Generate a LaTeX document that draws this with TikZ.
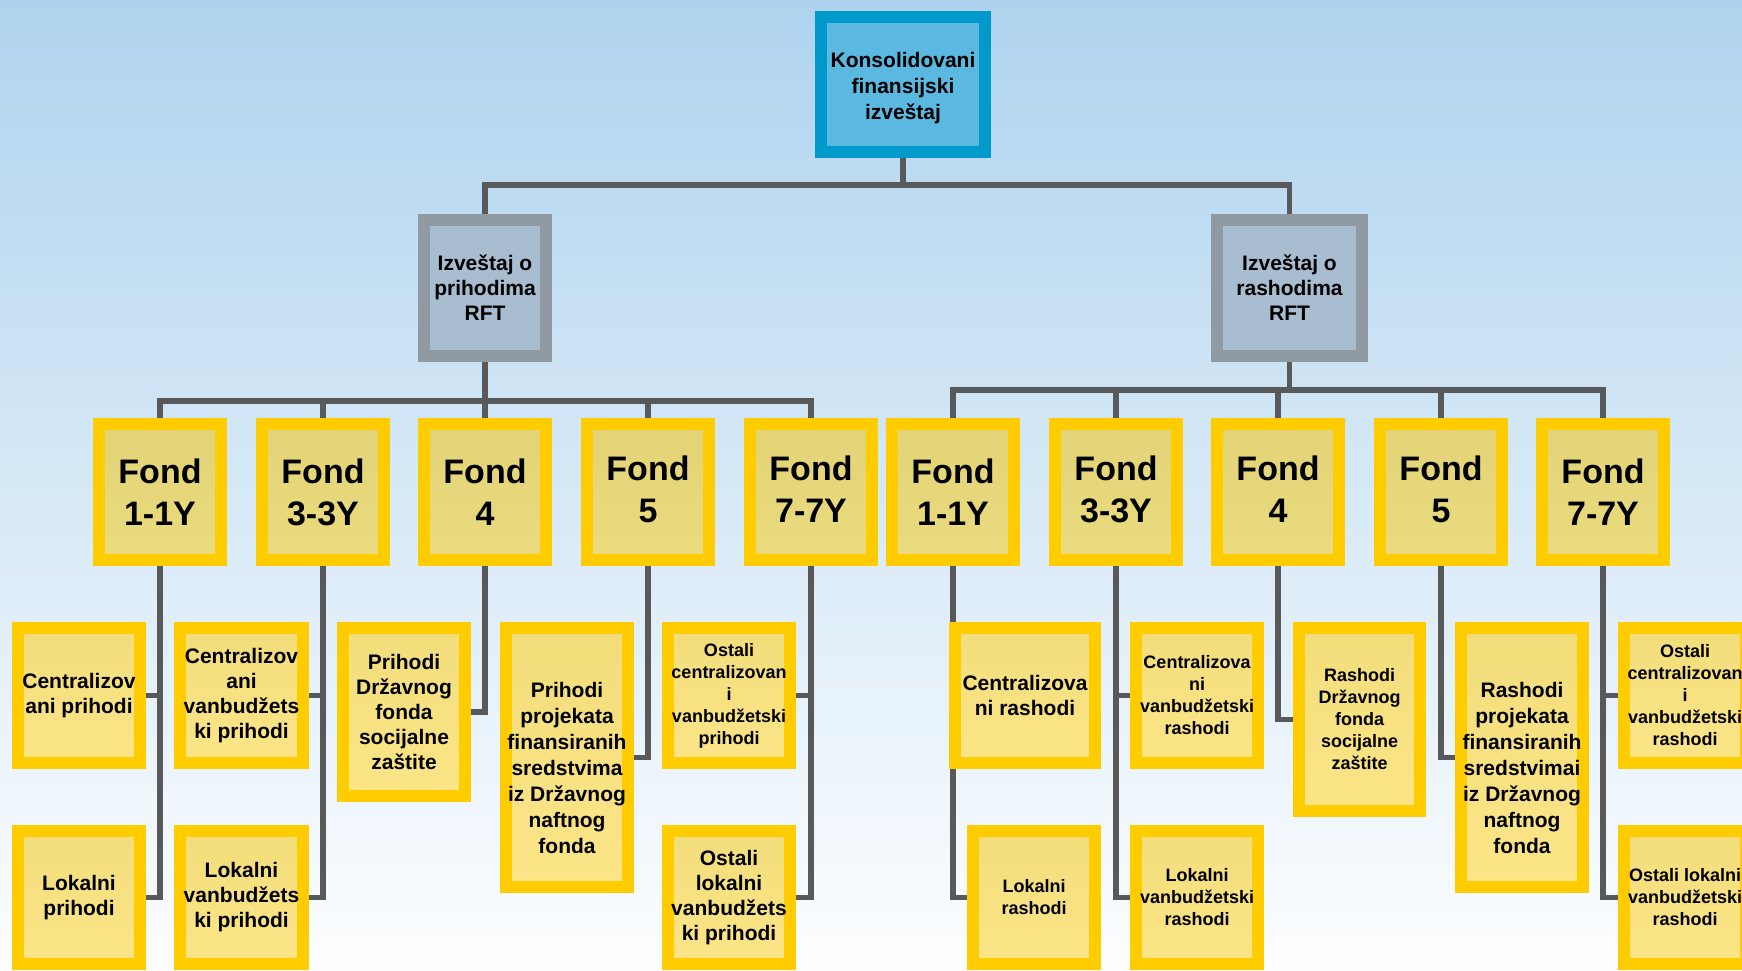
\documentclass[tikz,border=0pt]{standalone}
\usepackage{fontspec}
\setmainfont{Liberation Sans}
\pgfdeclarelayer{bg}
\pgfdeclarelayer{lines}
\pgfsetlayers{bg,lines,main}
\definecolor{bgtop}{HTML}{AFD3EE}
\definecolor{bgbot}{HTML}{FDFEFF}
\definecolor{topborder}{HTML}{0099CC}
\definecolor{topfill}{HTML}{5BB8E0}
\definecolor{midborder}{HTML}{8F9AA3}
\definecolor{midfill}{HTML}{A8BDD0}
\definecolor{yel}{HTML}{FFCC00}
\definecolor{fondtop}{HTML}{E3D377}
\definecolor{fondbot}{HTML}{EADB7E}
\definecolor{leaftop}{HTML}{F2DD7B}
\definecolor{leafbot}{HTML}{FCE587}
\definecolor{linegray}{HTML}{58595B}
\newcommand{\upfix}{\rule[-5pt]{0pt}{5pt}}
\newcommand{\downfix}{\rule{0pt}{37pt}}
\tikzset{
  conn/.style={draw=linegray, line width=5.5pt, line join=miter},
  framed/.style={line width=12pt, inner sep=0pt, outer sep=0pt, align=center},
  topbox/.style={framed, draw=topborder, fill=topfill, minimum width=164pt, minimum height=135pt,
    font=\fontsize{21}{26}\selectfont\bfseries},
  midbox/.style={framed, draw=midborder, fill=midfill, minimum height=136pt,
    font=\fontsize{21}{25}\selectfont\bfseries},
  fondbox/.style={framed, draw=yel, top color=fondtop, bottom color=fondbot, minimum width=122pt, minimum height=136pt,
    font=\fontsize{34}{42}\selectfont\bfseries},
  leafbox/.style={framed, draw=yel, top color=leaftop, bottom color=leafbot, minimum width=122pt, minimum height=135pt},
  lowbox/.style={leafbox, minimum height=133pt},
  tA/.style={font=\fontsize{21}{25}\selectfont\bfseries},
  tC/.style={font=\fontsize{21}{26}\selectfont\bfseries},
  tB/.style={font=\fontsize{18}{22}\selectfont\bfseries},
}
\begin{document}
\begin{tikzpicture}[x=1pt,y=-1pt]
\useasboundingbox (0,0) rectangle (1742,970);
\begin{pgfonlayer}{bg}
\shade[top color=bgtop, bottom color=bgbot] (0,0) rectangle (1742,970);
\end{pgfonlayer}
\clip (0,0) rectangle (1742,970);
\coordinate (busT) at (0,185);
\coordinate (busL) at (0,401);
\coordinate (busR) at (0,390);

% top
\node[topbox] (top) at (903,84.5) {\rule{0pt}{22.5pt}Konsolidovani\\finansijski\\izveštaj};
\node[midbox, minimum width=122pt] (lL) at (485,288) {Izveštaj o\\prihodima\\RFT};
\node[midbox, minimum width=145pt] (lR) at (1289.5,288) {Izveštaj o\\rashodima\\RFT};

% fonds left
\node[fondbox] (f1) at (160,492) {Fond\\1-1Y};
\node[fondbox] (f2) at (323,492) {Fond\\3-3Y};
\node[fondbox] (f3) at (485,492) {Fond\\4};
\node[fondbox] (f4) at (648,492) {Fond\\5\upfix};
\node[fondbox] (f5) at (811,492) {Fond\\7-7Y\upfix};
% fonds right
\node[fondbox] (r1) at (953,492) {Fond\\1-1Y};
\node[fondbox] (r2) at (1116,492) {Fond\\3-3Y\upfix};
\node[fondbox] (r3) at (1278,492) {Fond\\4\upfix};
\node[fondbox] (r4) at (1441,492) {Fond\\5\upfix};
\node[fondbox] (r5) at (1603,492) {Fond\\7-7Y};

% leaves left
\node[leafbox, tA] (a1) at (79,695.5) {Centralizov\\ani prihodi};
\node[lowbox, tA] (a2) at (79,897.5) {Lokalni\\prihodi};
\node[leafbox, tA, minimum width=123pt] (b1) at (241.5,695.5) {Centralizov\\ani\\vanbudžets\\ki prihodi};
\node[lowbox, tA, minimum width=123pt] (b2) at (241.5,897.5) {Lokalni\\vanbudžets\\ki prihodi};
\node[leafbox, tA, minimum height=168pt] (c1) at (404,712) {Prihodi\\Državnog\\fonda\\socijalne\\zaštite};
\node[leafbox, tC, minimum height=259pt] (d1) at (567,757.5) {\downfix Prihodi\\projekata\\finansiranih\\sredstvima\\iz Državnog\\naftnog\\fonda};
\node[leafbox, tB] (e1) at (729,695.5) {Ostali\\centralizovan\\i\\vanbudžetski\\prihodi};
\node[lowbox, tA] (e2) at (729,897.5) {Ostali\\lokalni\\vanbudžets\\ki prihodi};

% leaves right
\node[leafbox, tA, minimum width=140pt] (g0) at (1025,695.5) {Centralizova\\ni rashodi};
\node[lowbox, tB] (g0b) at (1034,897.5) {Lokalni\\rashodi};
\node[leafbox, tB] (g1) at (1197,695.5) {Centralizova\\ni\\vanbudžetski\\rashodi};
\node[lowbox, tB] (g2) at (1197,897.5) {Lokalni\\vanbudžetski\\rashodi};
\node[leafbox, tB, minimum width=121pt, minimum height=183pt] (h1) at (1359.5,719.5) {Rashodi\\Državnog\\fonda\\socijalne\\zaštite};
\node[leafbox, tC, minimum height=259pt] (i1) at (1522,757.5) {\downfix Rashodi\\projekata\\finansiranih\\sredstvimai\\iz Državnog\\naftnog\\fonda};
\node[leafbox, tB] (j1) at (1685,695.5) {Ostali\\centralizovan\\i\\vanbudžetski\\rashodi};
\node[lowbox, tB] (j2) at (1685,897.5) {Ostali lokalni\\vanbudžetski\\rashodi};

\begin{pgfonlayer}{lines}
\draw[conn] (top.south) |- (lL.north |- busT) -- (lL.north);
\draw[conn] (top.south) |- (lR.north |- busT) -- (lR.north);
\foreach \f in {f1,f2,f3,f4,f5}{
  \draw[conn] (lL.south) |- (\f.north |- busL) -- (\f.north);
}
\foreach \f in {r1,r2,r3,r4,r5}{
  \draw[conn] (lR.south) |- (\f.north |- busR) -- (\f.north);
}
\draw[conn] (f1.south) |- (a1.east);
\draw[conn] (f1.south) |- (a2.east);
\draw[conn] (f2.south) |- (b1.east);
\draw[conn] (f2.south) |- (b2.east);
\draw[conn] (f3.south) |- (c1.east);
\draw[conn] (f4.south) |- (d1.east);
\draw[conn] (f5.south) |- (e1.east);
\draw[conn] (f5.south) |- (e2.east);
\draw[conn] (r1.south) |- (g0b.west);
\draw[conn] (r2.south) |- (g1.west);
\draw[conn] (r2.south) |- (g2.west);
\draw[conn] (r3.south) |- (h1.west);
\draw[conn] (r4.south) |- (i1.west);
\draw[conn] (r5.south) |- (j1.west);
\draw[conn] (r5.south) |- (j2.west);
\end{pgfonlayer}
\end{tikzpicture}
\end{document}
